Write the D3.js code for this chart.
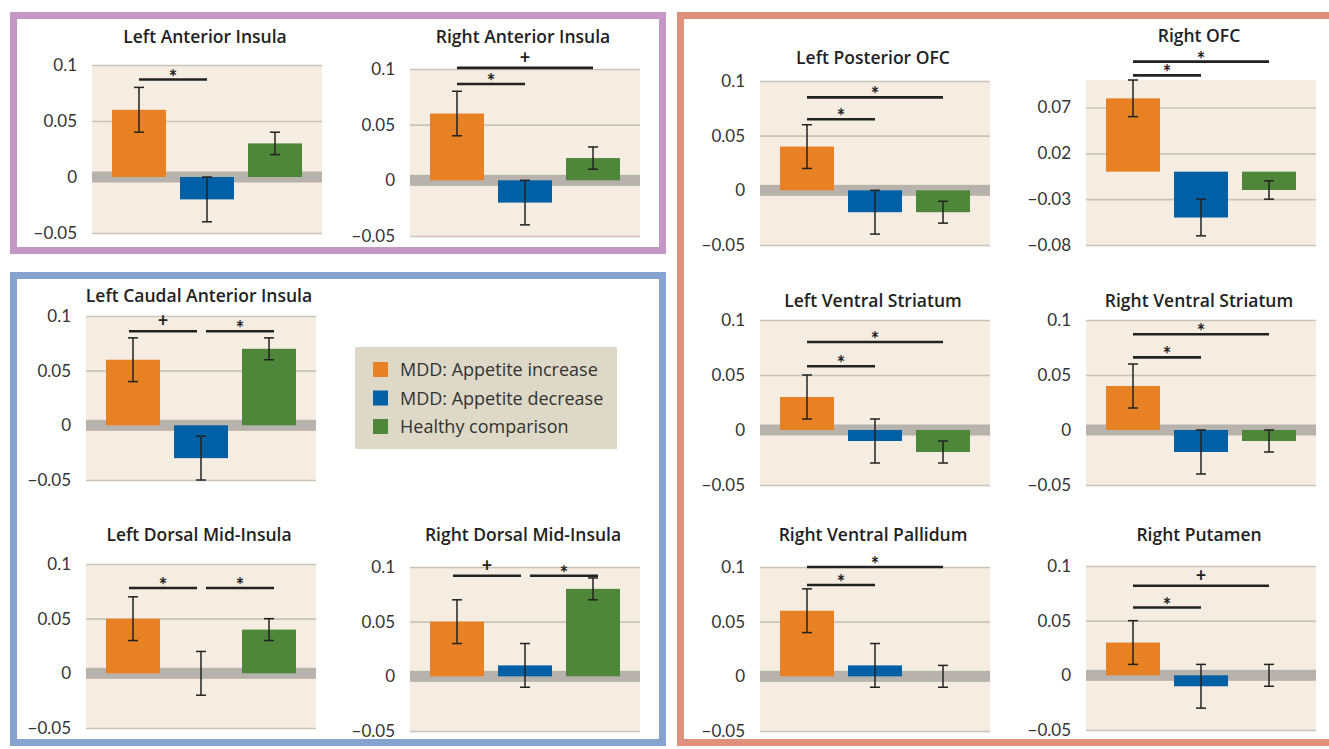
<!DOCTYPE html>
<html>
<head>
<meta charset="utf-8">
<script src="https://cdn.jsdelivr.net/npm/d3@7"></script>
<style>
  body { margin: 0; background: #fff; }
  svg { display: block; }
  .axis text { font-family: Lato, "Open Sans", sans-serif; font-size: 17px; fill: #333; }
  .title { font-family: "Open Sans", sans-serif; font-weight: 600; font-size: 17.5px; fill: #222; }
</style>
</head>
<body>
<div id="chart"></div>
<script>
// groups compared in every region
const groups = ['MDD: Appetite increase', 'MDD: Appetite decrease', 'Healthy comparison'];

const regions = [
  'Left Anterior Insula', 'Right Anterior Insula', 'Left Caudal Anterior Insula',
  'Left Dorsal Mid-Insula', 'Right Dorsal Mid-Insula', 'Left Posterior OFC',
  'Right OFC', 'Left Ventral Striatum', 'Right Ventral Striatum',
  'Right Ventral Pallidum', 'Right Putamen'
];

// mean per group (increase, decrease, healthy)
const means = [
  [0.06, -0.02, 0.03],
  [0.06, -0.02, 0.02],
  [0.06, -0.03, 0.07],
  [0.05, 0.00, 0.04],
  [0.05, 0.01, 0.08],
  [0.04, -0.02, -0.02],
  [0.08, -0.05, -0.02],
  [0.03, -0.01, -0.02],
  [0.04, -0.02, -0.01],
  [0.06, 0.01, 0.00],
  [0.03, -0.01, 0.00]
];
const errLow = [
  [0.04, -0.04, 0.02],
  [0.04, -0.04, 0.01],
  [0.04, -0.05, 0.06],
  [0.03, -0.02, 0.03],
  [0.03, -0.01, 0.07],
  [0.02, -0.04, -0.03],
  [0.06, -0.07, -0.03],
  [0.01, -0.03, -0.03],
  [0.02, -0.04, -0.02],
  [0.04, -0.01, -0.01],
  [0.01, -0.03, -0.01]
];
const errHigh = [
  [0.08, 0.00, 0.04],
  [0.08, 0.00, 0.03],
  [0.08, -0.01, 0.08],
  [0.07, 0.02, 0.05],
  [0.07, 0.03, 0.09],
  [0.06, 0.00, -0.01],
  [0.10, -0.03, -0.01],
  [0.05, 0.01, -0.01],
  [0.06, 0.00, 0.00],
  [0.08, 0.03, 0.01],
  [0.05, 0.01, 0.01]
];

// significance brackets: [from group, to group, level, symbol]
const sigBars = [
  [[0, 1, 0.087, '*']],
  [[0, 1, 0.0865, '*'], [0, 2, 0.101, '+']],
  [[0, 1, 0.086, '+'], [1, 2, 0.086, '*']],
  [[0, 1, 0.078, '*'], [1, 2, 0.078, '*']],
  [[0, 1, 0.092, '+'], [1, 2, 0.092, '*']],
  [[0, 1, 0.065, '*'], [0, 2, 0.085, '*']],
  [[0, 1, 0.105, '*'], [0, 2, 0.12, '*']],
  [[0, 1, 0.058, '*'], [0, 2, 0.08, '*']],
  [[0, 1, 0.066, '*'], [0, 2, 0.087, '*']],
  [[0, 1, 0.0835, '*'], [0, 2, 0.1, '*']],
  [[0, 1, 0.062, '*'], [0, 2, 0.082, '+']]
];

const stdTicks = [0.1, 0.05, 0, -0.05];
const ofcTicks = [0.07, 0.02, -0.03, -0.08];
const stdDomain = [-0.05, 0.1];
const ofcDomain = [-0.08, 0.1];

const colors = ['#e88024', '#0060a6', '#4e873a'];

// plot placement (left edge, y of domain top, y of domain bottom, title y)
const layout = [
  { left: 92, top: 65, bottom: 233, titleY: 43 },
  { left: 410, top: 69, bottom: 236, titleY: 43 },
  { left: 86, top: 316, bottom: 480, titleY: 302 },
  { left: 86, top: 564, bottom: 728, titleY: 541 },
  { left: 410, top: 567, bottom: 731, titleY: 541 },
  { left: 760, top: 81, bottom: 245, titleY: 64 },
  { left: 1086, top: 80, bottom: 245, titleY: 42, ofc: true },
  { left: 760, top: 320, bottom: 485, titleY: 307 },
  { left: 1086, top: 320, bottom: 485, titleY: 307 },
  { left: 760, top: 567, bottom: 731, titleY: 541 },
  { left: 1086, top: 566, bottom: 730, titleY: 541 }
];
const plotW = 230;

const svg = d3.select('#chart').append('svg')
  .attr('width', 1329).attr('height', 749);

// frames
svg.append('rect').attr('x', 13.5).attr('y', 15.5).attr('width', 649).attr('height', 235)
  .attr('fill', 'none').attr('stroke', '#c497c6').attr('stroke-width', 7);
svg.append('rect').attr('x', 13.5).attr('y', 275.5).attr('width', 649).attr('height', 467)
  .attr('fill', 'none').attr('stroke', '#86a3cf').attr('stroke-width', 7);
svg.append('rect').attr('x', 680.5).attr('y', 15.5).attr('width', 660).attr('height', 727)
  .attr('fill', 'none').attr('stroke', '#e0917c').attr('stroke-width', 7);

regions.forEach((name, i) => {
  const L = layout[i];
  const domain = L.ofc ? ofcDomain : stdDomain;
  const ticks = L.ofc ? ofcTicks : stdTicks;

  const x = d3.scaleBand().domain([0, 1, 2])
    .range([L.left, L.left + plotW]).paddingInner(0.206).paddingOuter(0.294);
  const y = d3.scaleLinear().domain(domain).range([L.bottom, L.top]);

  const g = svg.append('g');

  g.append('rect')
    .attr('x', L.left).attr('y', y(domain[1]))
    .attr('width', plotW).attr('height', y(domain[0]) - y(domain[1]))
    .attr('fill', '#f5ede1');

  const axis = d3.axisLeft(y).tickValues(ticks).tickFormat(d3.format('~g'))
    .tickSize(-plotW).tickPadding(15);
  const ax = g.append('g').attr('class', 'axis')
    .attr('transform', `translate(${L.left},0)`).call(axis);
  ax.select('.domain').remove();
  ax.selectAll('line').attr('stroke', '#c9c3b9').attr('stroke-width', 1.6);

  if (!L.ofc) {
    g.append('rect')
      .attr('x', L.left).attr('y', y(0) - 5.5)
      .attr('width', plotW).attr('height', 11)
      .attr('fill', '#b7b2ac');
  }

  const rows = means[i].map((v, k) => ({ k, v, lo: errLow[i][k], hi: errHigh[i][k] }));

  g.selectAll('rect.bar').data(rows).enter().append('rect')
    .attr('class', 'bar')
    .attr('x', d => x(d.k))
    .attr('y', d => y(Math.max(0, d.v)))
    .attr('width', x.bandwidth())
    .attr('height', d => Math.abs(y(d.v) - y(0)))
    .attr('fill', d => colors[d.k]);

  const eb = g.selectAll('g.err').data(rows).enter().append('g')
    .attr('class', 'err')
    .attr('stroke', '#222').attr('stroke-width', 1.5);
  eb.append('line')
    .attr('x1', d => x(d.k) + x.bandwidth() / 2).attr('x2', d => x(d.k) + x.bandwidth() / 2)
    .attr('y1', d => y(d.lo)).attr('y2', d => y(d.hi));
  eb.append('line')
    .attr('x1', d => x(d.k) + x.bandwidth() / 2 - 5).attr('x2', d => x(d.k) + x.bandwidth() / 2 + 5)
    .attr('y1', d => y(d.lo)).attr('y2', d => y(d.lo));
  eb.append('line')
    .attr('x1', d => x(d.k) + x.bandwidth() / 2 - 5).attr('x2', d => x(d.k) + x.bandwidth() / 2 + 5)
    .attr('y1', d => y(d.hi)).attr('y2', d => y(d.hi));

  // significance brackets
  const sig = sigBars[i];
  sig.forEach(s => {
    const shared = sig.some(o => o !== s && o[2] === s[2]);
    let x1 = x(s[0]) + x.bandwidth() / 2;
    let x2 = x(s[1]) + x.bandwidth() / 2;
    if (shared) {
      if (s[0] === 0) { x1 -= 4; x2 -= 4; } else { x1 += 5; x2 += 5; }
    }
    g.append('line')
      .attr('x1', x1).attr('x2', x2)
      .attr('y1', y(s[2])).attr('y2', y(s[2]))
      .attr('stroke', '#222').attr('stroke-width', 2.6);
    g.append('text')
      .attr('x', (x1 + x2) / 2)
      .attr('y', y(s[2]) - (s[3] === '*' ? -5 : 4))
      .attr('text-anchor', 'middle')
      .style('font-family', 'Lato, sans-serif')
      .style('font-weight', 'bold')
      .style('font-size', s[3] === '*' ? '20px' : '18px')
      .style('fill', '#222')
      .text(s[3]);
  });

  g.append('text').attr('class', 'title')
    .attr('x', L.left + plotW / 2 - 2).attr('y', L.titleY)
    .attr('text-anchor', 'middle')
    .text(name);
});

// legend
const lg = svg.append('g').attr('transform', 'translate(355,347)');
lg.append('rect').attr('width', 262).attr('height', 102).attr('fill', '#ddd9c6');
groups.forEach((name, k) => {
  lg.append('rect').attr('x', 18).attr('y', 15 + k * 28.5)
    .attr('width', 15).attr('height', 15).attr('fill', colors[k]);
  lg.append('text').attr('x', 45).attr('y', 29 + k * 28.5)
    .style('font-family', '"Open Sans", sans-serif').style('font-size', '18px').style('fill', '#333')
    .text(name);
});
</script>
</body>
</html>
